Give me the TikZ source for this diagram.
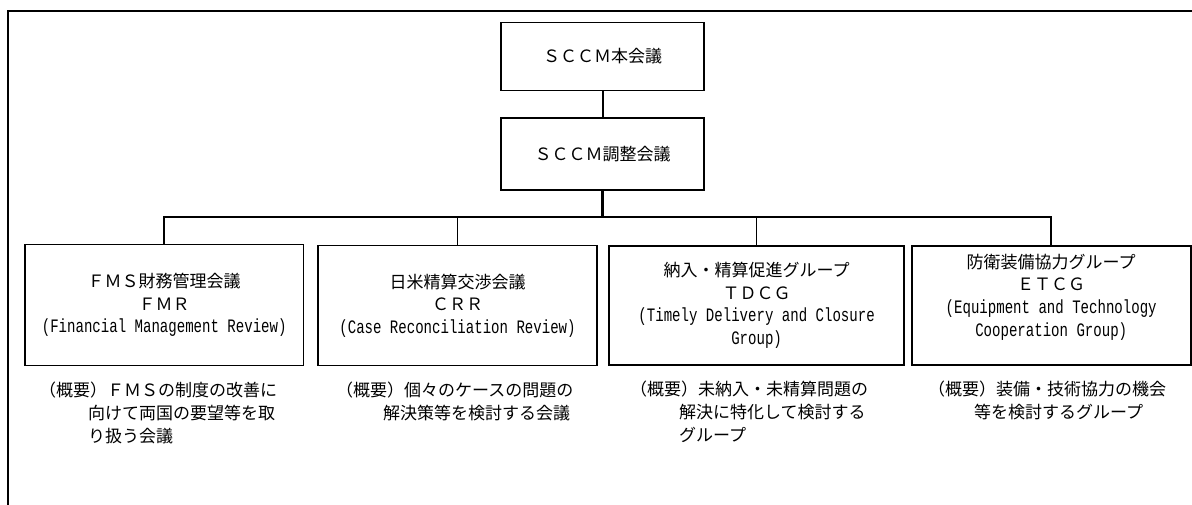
\documentclass[tikz,border=0pt]{standalone}
\usepackage{fontspec}
\newfontfamily\cjk{Noto Sans CJK JP}
\newfontfamily\lat[FakeStretch=0.74]{Liberation Mono}
\newcommand{\latline}[1]{{\lat\fontsize{19}{22.7}\selectfont #1}}
\begin{document}
\begin{tikzpicture}[x=1pt,y=-1pt,
  txt/.style={font=\cjk\fontsize{17}{22.7}\selectfont},
  box/.style={draw,line width=1.9pt,txt,align=center,inner sep=0pt},
  conn/.style={line width=1.7pt},
  desc/.style={txt,align=left,anchor=north west,inner sep=0pt}]
\useasboundingbox (0,0) rectangle (1192,505);
\draw[line width=1.9pt] (1192,11) -- (8,11) -- (8,505);
\node[box,minimum width=203pt,minimum height=68pt] (top) at (602.7,56.5) {ＳＣＣＭ本会議};
\node[box,minimum width=203pt,minimum height=72pt] (coord) at (602.7,154) {ＳＣＣＭ調整会議};
\coordinate (bus) at (602.7,216.7);
\node[box,minimum width=278.6pt,minimum height=121pt] (b1) at (164.2,305) {ＦＭＳ財務管理会議\\ＦＭＲ\\\latline{(Financial Management Review)}};
\node[box,minimum width=279pt,minimum height=120pt] (b2) at (457.5,305.5) {日米精算交渉会議\\ＣＲＲ\\\latline{(Case Reconciliation Review)}};
\node[box,minimum width=295pt,minimum height=119pt] (b3) at (756.6,305.2) {納入・精算促進グループ\\ＴＤＣＧ\\\latline{(Timely Delivery and Closure}\\\latline{Group)}};
\node[box,minimum width=279pt,minimum height=119pt] (b4) at (1051.2,305.2) {防衛装備協力グループ\\ＥＴＣＧ\\\latline{(Equipment and Technology}\\\latline{Cooperation Group)\rule[-20pt]{0pt}{1pt}}};
\draw[conn] (top.south) -- (coord.north);
\draw[line width=3.2pt] (coord.south) -- (bus);
\draw[conn] (b1.north) -- (b1.north |- bus) -- (b4.north |- bus) -- (b4.north);
\draw[conn] (b2.north) -- (b2.north |- bus);
\draw[conn] (b3.north) -- (b3.north |- bus);
\node[desc] (d1) at (39,382) {（概要）ＦＭＳの制度の改善に\\\hspace{49pt}向けて両国の要望等を取\\\hspace{49pt}り扱う会議};
\node[desc] (d2) at (336,382) {（概要）個々のケースの問題の\\\hspace{47pt}解決策等を検討する会議};
\node[desc] (d3) at (630,381) {（概要）未納入・未精算問題の\\\hspace{49pt}解決に特化して検討する\\\hspace{49pt}グループ};
\node[desc] (d4) at (928,381) {（概要）装備・技術協力の機会\\\hspace{46pt}等を検討するグループ};
\end{tikzpicture}
\end{document}
